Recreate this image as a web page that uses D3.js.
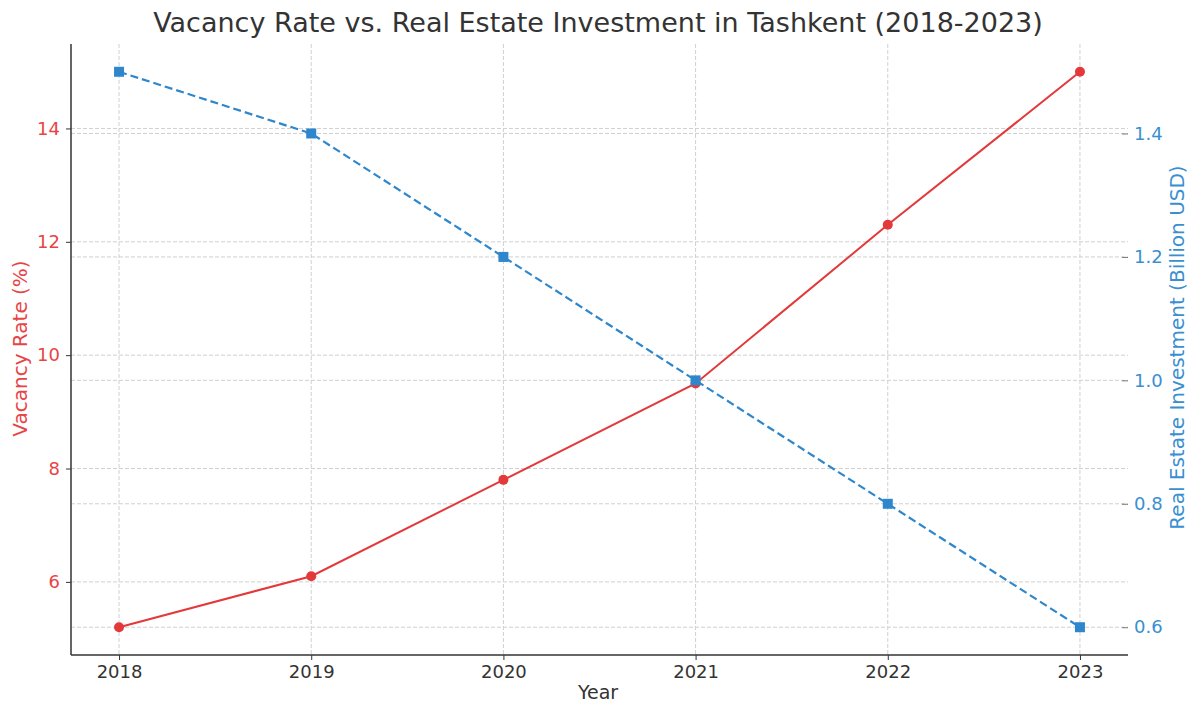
<!DOCTYPE html>
<meta charset="utf-8">
<style>
body { margin: 0; background: #fff; }
text { font-family: "DejaVu Sans", sans-serif; }
.grid line { stroke: #d0d0d0; stroke-dasharray: 4,2; stroke-width: 1; }
</style>
<svg width="1190" height="704"></svg>
<script src="https://d3js.org/d3.v7.min.js"></script>
<script>
var years = [2018, 2019, 2020, 2021, 2022, 2023];
var vacancy = [5.2, 6.1, 7.8, 9.5, 12.3, 15.0];
var investment = [1.5, 1.4, 1.2, 1.0, 0.8, 0.6];
var leftTicks = [6, 8, 10, 12, 14];
var rightTicks = [0.6, 0.8, 1.0, 1.2, 1.4];

var red = "#e3393b", blue = "#2e87cc", redText = "#e84446", blueText = "#3a8fd0";

var svg = d3.select("svg"),
    margin = {top: 44, right: 62, bottom: 49, left: 71},
    width = +svg.attr("width") - margin.left - margin.right,
    height = +svg.attr("height") - margin.top - margin.bottom;

var g = svg.append("g").attr("transform", "translate(" + margin.left + "," + margin.top + ")");

var x = d3.scaleLinear().domain([2017.75, 2023.25]).range([0, width]);
var yL = d3.scaleLinear().domain([4.71, 15.49]).range([height, 0]);
var yR = d3.scaleLinear().domain([0.555, 1.545]).range([height, 0]);

// grid
var grid = g.append("g").attr("class", "grid");
grid.selectAll(".gx").data(years).enter().append("line")
    .attr("x1", function(d) { return x(d); }).attr("x2", function(d) { return x(d); })
    .attr("y1", 0).attr("y2", height);
grid.selectAll(".gl").data(leftTicks).enter().append("line")
    .attr("x1", 0).attr("x2", width)
    .attr("y1", function(d) { return yL(d); }).attr("y2", function(d) { return yL(d); });
grid.selectAll(".gr").data(rightTicks).enter().append("line")
    .attr("x1", 0).attr("x2", width)
    .attr("y1", function(d) { return yR(d); }).attr("y2", function(d) { return yR(d); });

// axes
var xAxis = g.append("g").attr("transform", "translate(0," + height + ")")
    .call(d3.axisBottom(x).tickValues(years).tickFormat(d3.format("d")).tickSize(5).tickPadding(5));
xAxis.select(".domain").attr("stroke", "#333").attr("stroke-width", 1.5).attr("d", "M0,0H" + width);
xAxis.selectAll(".tick line").attr("stroke", "#333");
xAxis.selectAll(".tick text").attr("fill", "#333").style("font-size", "18px");

var lAxis = g.append("g")
    .call(d3.axisLeft(yL).tickValues(leftTicks).tickSize(5).tickPadding(6));
lAxis.select(".domain").attr("stroke", "#333").attr("stroke-width", 1.5).attr("d", "M0," + height + "V0");
lAxis.selectAll(".tick line").attr("stroke", "#333");
lAxis.selectAll(".tick text").attr("fill", redText).style("font-size", "18px");

var rAxis = g.append("g").attr("transform", "translate(" + width + ",0)")
    .call(d3.axisRight(yR).tickValues(rightTicks).tickFormat(d3.format(".1f")).tickSize(0).tickPadding(6));
rAxis.select(".domain").remove();
rAxis.selectAll(".tick").append("line").attr("x1", -6).attr("x2", 0).attr("stroke", "#777");
rAxis.selectAll(".tick text").attr("fill", blueText).style("font-size", "18px");

// vacancy line
var lineL = d3.line().x(function(d, i) { return x(years[i]); }).y(function(d) { return yL(d); });
g.append("path").datum(vacancy).attr("d", lineL)
    .attr("fill", "none").attr("stroke", red).attr("stroke-width", 2);
g.selectAll(".dotL").data(vacancy).enter().append("circle")
    .attr("cx", function(d, i) { return x(years[i]); }).attr("cy", function(d) { return yL(d); })
    .attr("r", 5).attr("fill", red);

// investment line
var lineR = d3.line().x(function(d, i) { return x(years[i]); }).y(function(d) { return yR(d); });
g.append("path").datum(investment).attr("d", lineR)
    .attr("fill", "none").attr("stroke", blue).attr("stroke-width", 2.2).attr("stroke-dasharray", "8,4");
g.selectAll(".dotR").data(investment).enter().append("rect")
    .attr("x", function(d, i) { return x(years[i]) - 5; }).attr("y", function(d) { return yR(d) - 5; })
    .attr("width", 10).attr("height", 10).attr("fill", blue);

// labels
svg.append("text").attr("x", 598).attr("y", 32).attr("text-anchor", "middle")
    .attr("fill", "#333").style("font-size", "27px")
    .text("Vacancy Rate vs. Real Estate Investment in Tashkent (2018-2023)");
svg.append("text").attr("x", 598).attr("y", 699).attr("text-anchor", "middle")
    .attr("fill", "#333").style("font-size", "19px").text("Year");
svg.append("text").attr("transform", "translate(27," + (margin.top + height / 2 - 1) + ") rotate(-90)")
    .attr("text-anchor", "middle").attr("fill", redText).style("font-size", "20px").text("Vacancy Rate (%)");
svg.append("text").attr("transform", "translate(1184," + (margin.top + height / 2 - 2) + ") rotate(-90)")
    .attr("text-anchor", "middle").attr("fill", blueText).style("font-size", "20px")
    .text("Real Estate Investment (Billion USD)");
</script>
